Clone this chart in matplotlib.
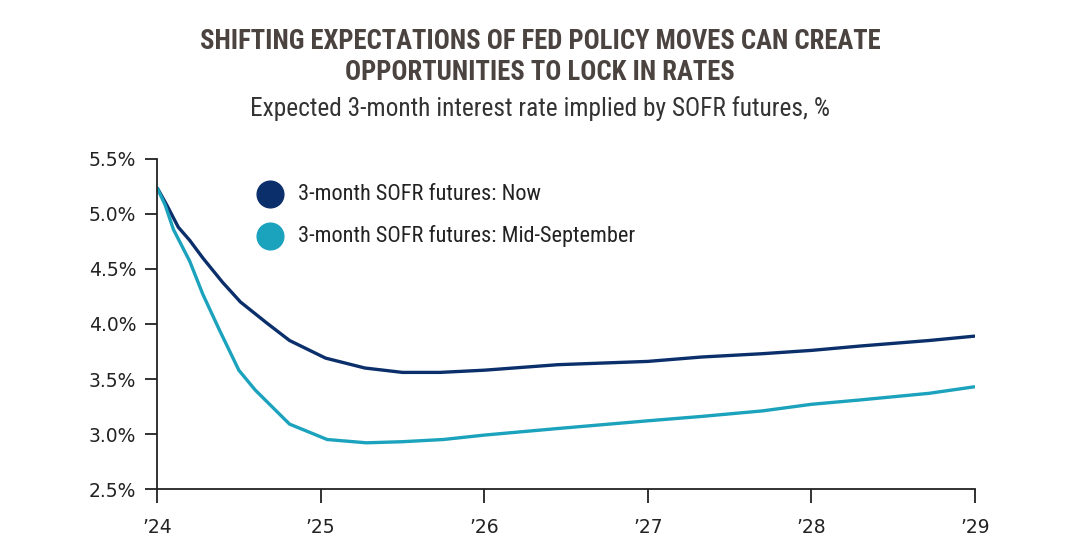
import matplotlib.pyplot as plt
from matplotlib import font_manager
import numpy as np

# data (x in years, y in %)
now_x = [2024.0, 2024.06, 2024.13, 2024.2, 2024.28, 2024.4, 2024.51, 2024.67, 2024.81,
         2025.03, 2025.27, 2025.5, 2025.73, 2026.0, 2026.45, 2027.0, 2027.33, 2027.7,
         2028.0, 2028.3, 2028.72, 2029.0]
now_y = [5.24, 5.08, 4.88, 4.76, 4.60, 4.38, 4.20, 4.01, 3.85,
         3.69, 3.60, 3.56, 3.56, 3.58, 3.63, 3.66, 3.70, 3.73,
         3.76, 3.80, 3.85, 3.89]

sep_x = [2024.0, 2024.05, 2024.1, 2024.2, 2024.28, 2024.38, 2024.5, 2024.6, 2024.81,
         2025.04, 2025.28, 2025.5, 2025.75, 2026.0, 2026.45, 2027.0, 2027.33, 2027.7,
         2028.0, 2028.3, 2028.72, 2029.0]
sep_y = [5.24, 5.08, 4.86, 4.57, 4.27, 3.95, 3.58, 3.40, 3.09,
         2.95, 2.92, 2.93, 2.95, 2.99, 3.05, 3.12, 3.16, 3.21,
         3.27, 3.31, 3.37, 3.43]

year_ticks = [2024, 2025, 2026, 2027, 2028, 2029]
year_labels = ["\u201924", "\u201925", "\u201926", "\u201927", "\u201928", "\u201929"]
y_ticks = [2.5, 3.0, 3.5, 4.0, 4.5, 5.0, 5.5]

names = set(f.name for f in font_manager.fontManager.ttflist)
narrow = "Roboto"
for cand in ["Liberation Sans Narrow", "Roboto Condensed", "DejaVu Sans Condensed"]:
    if cand in names:
        narrow = cand
        break

navy = "#0b2f6b"
teal = "#1ba2bd"

fig = plt.figure(figsize=(10.8, 5.59), dpi=100)
ax = fig.add_axes([0.1454, 0.1252, 0.7574, 0.5904])

ax.plot(now_x, now_y, color=navy, lw=2.4, solid_capstyle="butt")
ax.plot(sep_x, sep_y, color=teal, lw=2.4, solid_capstyle="butt")

ax.set_xlim(2024, 2029)
ax.set_ylim(2.5, 5.5)
ax.set_xticks(year_ticks)
ax.set_xticklabels(year_labels)
ax.set_yticks(y_ticks)
ax.set_yticklabels([f"{v:.1f}%" for v in y_ticks])

for s in ["top", "right"]:
    ax.spines[s].set_visible(False)
for s in ["left", "bottom"]:
    ax.spines[s].set_linewidth(1.3)
    ax.spines[s].set_color("#222222")
ax.tick_params(axis="x", length=10, width=1.3, pad=11, labelsize=13.5, colors="#222222")
ax.tick_params(axis="y", length=9, width=1.3, pad=6, labelsize=13.5, colors="#222222")

# legend drawn as markers + text
ax.scatter([2024.69], [5.18], s=370, color=navy, clip_on=False)
ax.scatter([2024.69], [4.80], s=370, color=teal, clip_on=False)
ax.text(2024.86, 5.18, "3-month SOFR futures: Now", va="center", ha="left",
        fontsize=16, color="#222222", family=narrow)
ax.text(2024.86, 4.80, "3-month SOFR futures: Mid-September", va="center", ha="left",
        fontsize=16, color="#222222", family=narrow)

fig.text(0.5, 0.898, "SHIFTING EXPECTATIONS OF FED POLICY MOVES CAN CREATE\nOPPORTUNITIES TO LOCK IN RATES",
         ha="center", va="center", fontsize=19.2, fontweight="bold", color="#4a4340",
         family=narrow, linespacing=1.17)
fig.text(0.5, 0.806, "Expected 3-month interest rate implied by SOFR futures, %",
         ha="center", va="center", fontsize=18.3, color="#333333", family=narrow)

fig.savefig("out.png", dpi=100)
